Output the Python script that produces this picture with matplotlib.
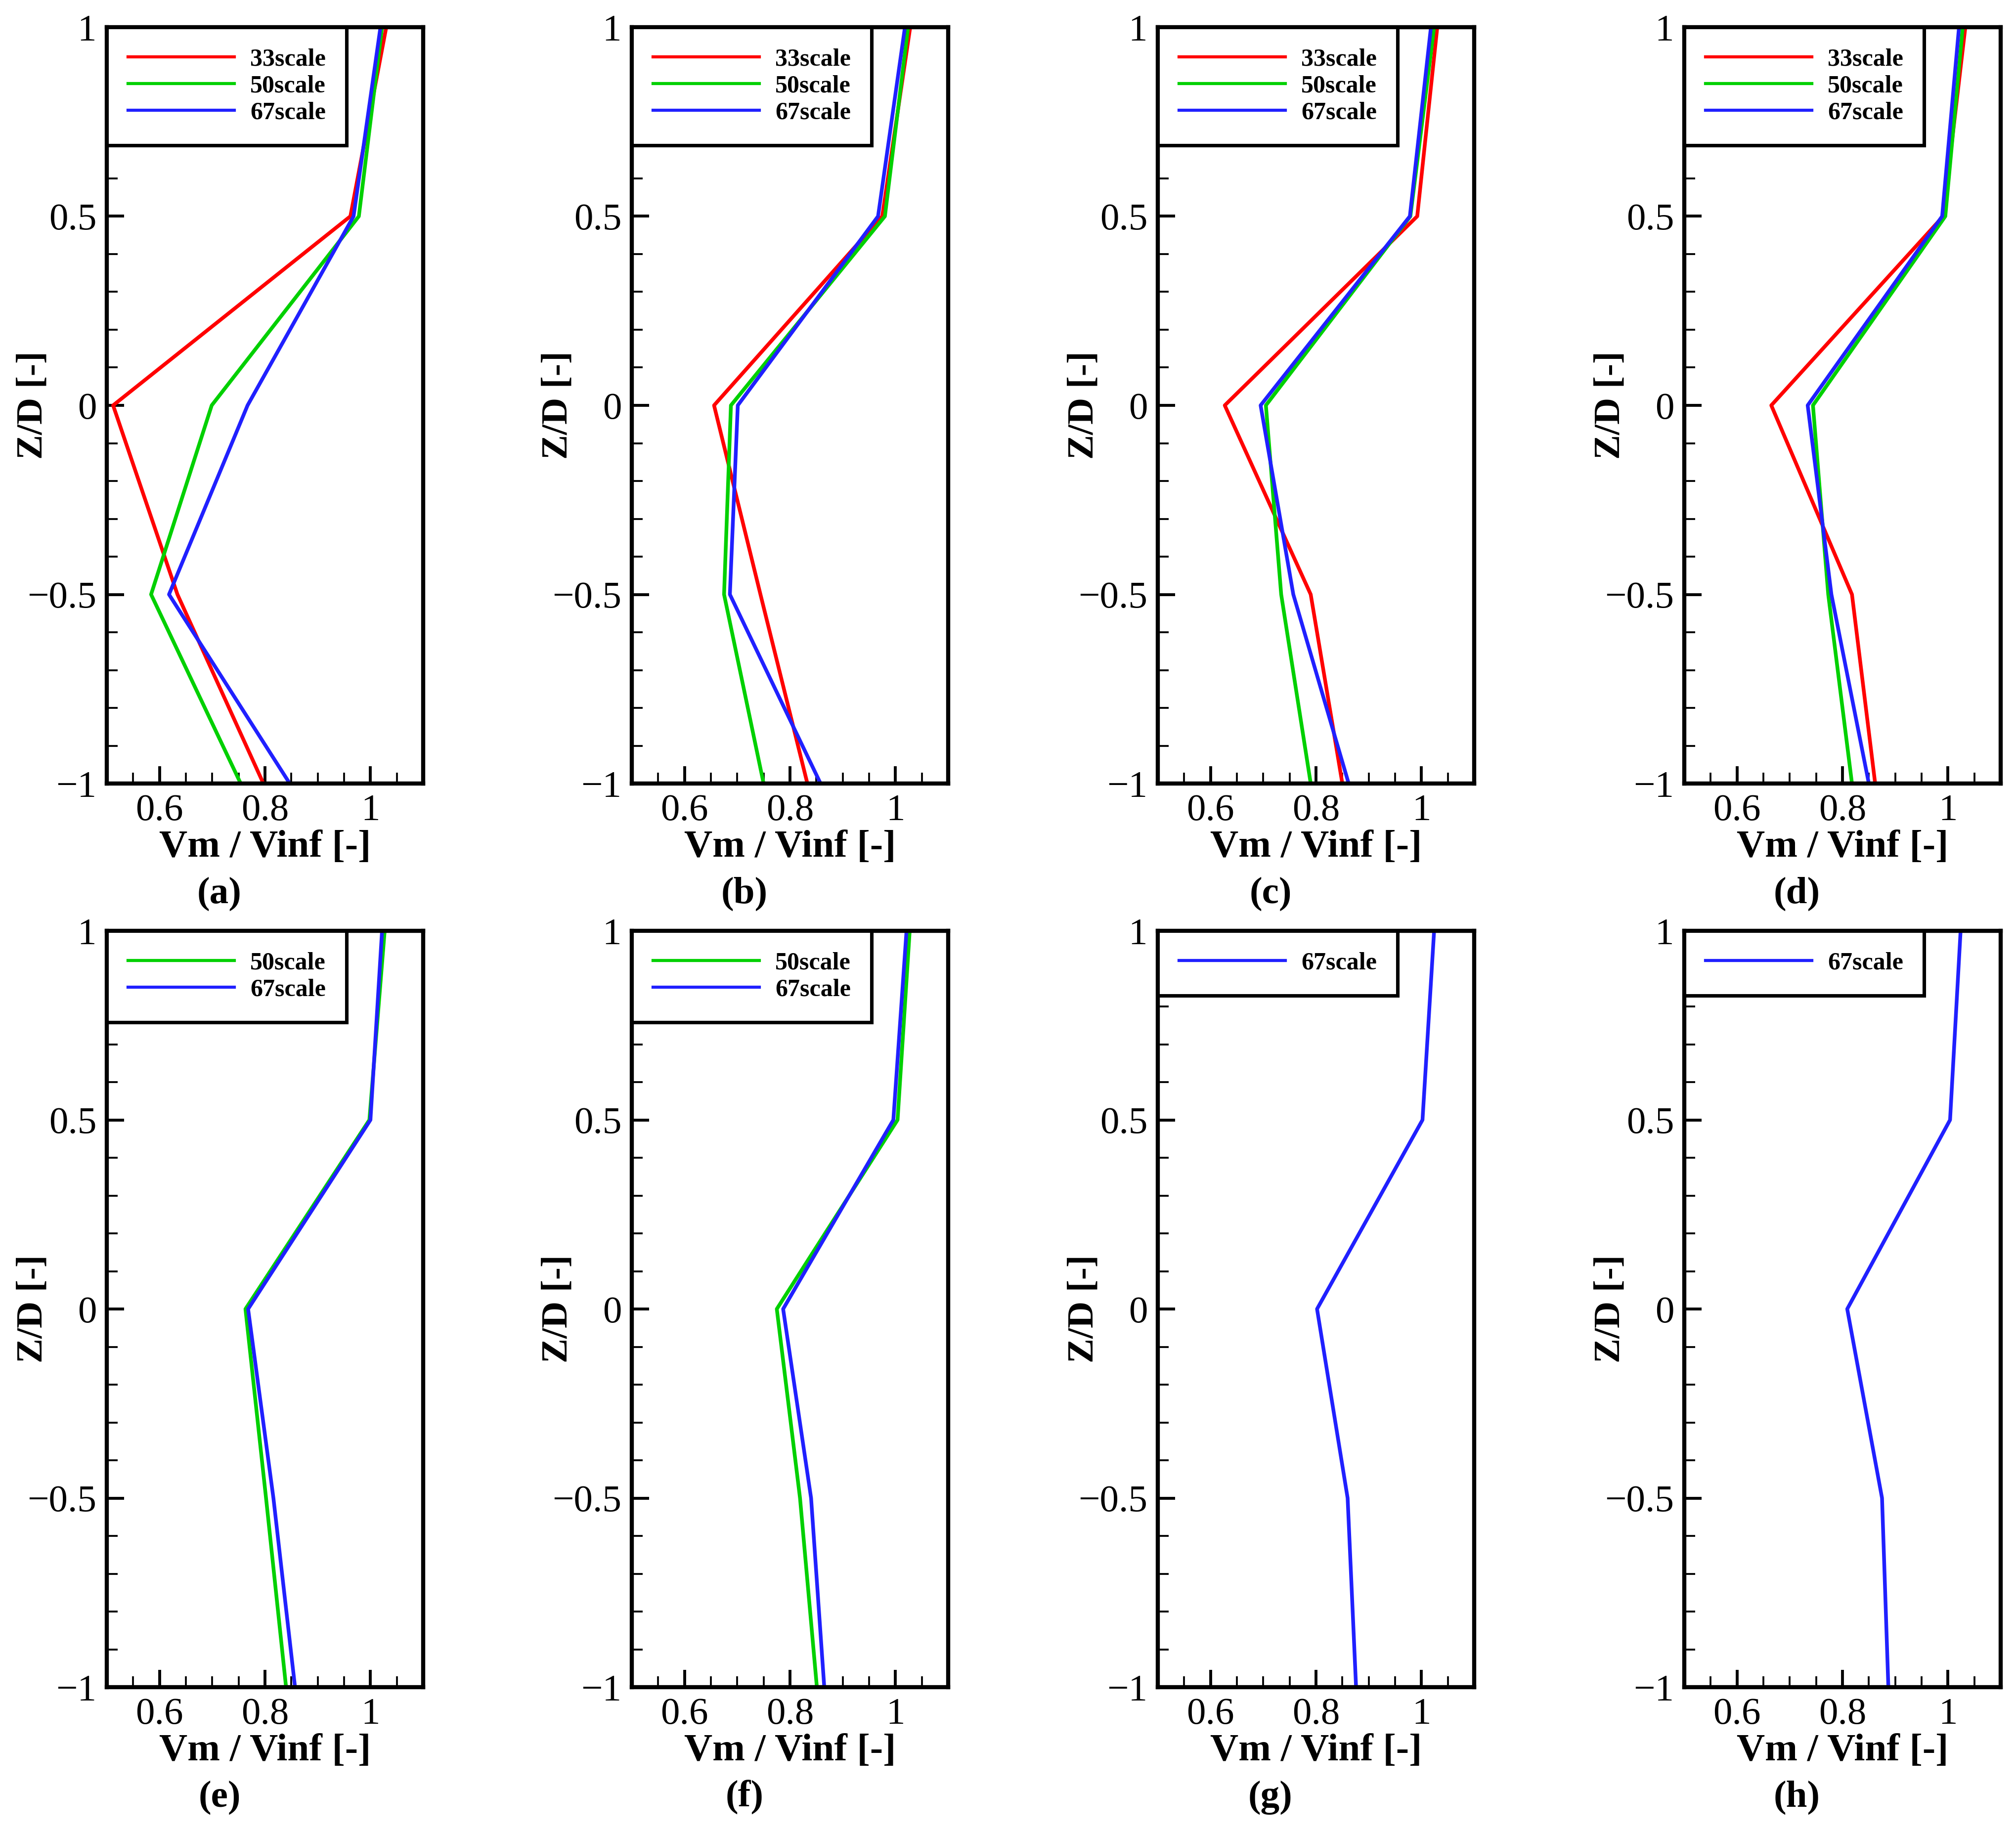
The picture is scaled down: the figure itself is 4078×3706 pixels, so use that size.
import numpy as np
import matplotlib
matplotlib.use("Agg")
import matplotlib.pyplot as plt
from matplotlib.ticker import MultipleLocator, FuncFormatter

plt.rcParams['font.family'] = ['Liberation Serif', 'DejaVu Serif']
plt.rcParams['axes.unicode_minus'] = True

# Z/D stations (same for every panel)
zd = [-1.0, -0.5, 0.0, 0.5, 1.0]

# Vm/Vinf per panel and per scale
panel_letters = ['(a)', '(b)', '(c)', '(d)', '(e)', '(f)', '(g)', '(h)']
scale_names = ['33scale', '50scale', '67scale']
scale_colors = {'33scale': '#ff0000', '50scale': '#00d000', '67scale': '#2020ff'}

v33 = {
    '(a)': [0.797, 0.634, 0.512, 0.962, 1.030],
    '(b)': [0.833, 0.744, 0.656, 0.975, 1.028],
    '(c)': [0.850, 0.790, 0.627, 0.992, 1.030],
    '(d)': [0.862, 0.818, 0.665, 0.991, 1.033],
}
v50 = {
    '(a)': [0.754, 0.584, 0.699, 0.978, 1.022],
    '(b)': [0.750, 0.675, 0.688, 0.980, 1.024],
    '(c)': [0.790, 0.734, 0.705, 0.979, 1.024],
    '(d)': [0.818, 0.773, 0.744, 0.995, 1.028],
    '(e)': [0.840, 0.802, 0.763, 0.998, 1.027],
    '(f)': [0.851, 0.819, 0.775, 1.004, 1.027],
}
v67 = {
    '(a)': [0.847, 0.618, 0.767, 0.968, 1.019],
    '(b)': [0.858, 0.686, 0.701, 0.967, 1.018],
    '(c)': [0.862, 0.757, 0.695, 0.978, 1.018],
    '(d)': [0.850, 0.779, 0.734, 0.989, 1.021],
    '(e)': [0.857, 0.816, 0.768, 1.000, 1.022],
    '(f)': [0.865, 0.840, 0.787, 0.996, 1.021],
    '(g)': [0.876, 0.860, 0.802, 1.002, 1.024],
    '(h)': [0.887, 0.875, 0.809, 1.004, 1.024],
}
series = {'33scale': v33, '50scale': v50, '67scale': v67}

W, H = 4078, 3706
fig = plt.figure(figsize=(W / 300, H / 300), dpi=300)

lefts = [216, 1278, 2342, 3407]
tops = [55, 1883]
aw, ah = 640, 1530


def fmt(v, pos):
    s = '%g' % v
    if s == '-0':
        s = '0'
    return s.replace('-', '\u2212')


for i, letter in enumerate(panel_letters):
    r, c = divmod(i, 4)
    x0 = lefts[c]
    y0 = tops[r]
    ax = fig.add_axes([x0 / W, 1 - (y0 + ah) / H, aw / W, ah / H])
    for name in scale_names:
        if letter in series[name]:
            ax.plot(series[name][letter], zd, color=scale_colors[name], lw=1.8, label=name)
    ax.set_xlim(0.5, 1.1)
    ax.set_ylim(-1, 1)
    ax.xaxis.set_major_locator(MultipleLocator(0.2))
    ax.xaxis.set_minor_locator(MultipleLocator(0.05))
    ax.yaxis.set_major_locator(MultipleLocator(0.5))
    ax.yaxis.set_minor_locator(MultipleLocator(0.1))
    ax.xaxis.set_major_formatter(FuncFormatter(fmt))
    ax.yaxis.set_major_formatter(FuncFormatter(fmt))
    ax.tick_params(which='both', direction='in', top=False, right=False, labelsize=18.5)
    ax.tick_params(which='major', length=8.4, width=1.4, pad=5)
    ax.tick_params(which='minor', length=5.2, width=0.9)
    for sp in ax.spines.values():
        sp.set_linewidth(2.0)
    ax.set_xlabel('Vm / Vinf [-]', fontsize=19, fontweight='bold', labelpad=1)
    ax.set_ylabel('Z/D [-]', fontsize=18, fontweight='bold')
    ax.yaxis.set_label_coords(-0.18, 0.5)
    leg = ax.legend(loc='upper left', bbox_to_anchor=(0, 1), borderaxespad=0,
                    fancybox=False, edgecolor='black', framealpha=1,
                    prop={'family': 'Liberation Serif', 'weight': 'bold', 'size': 12},
                    handlelength=4.3, handletextpad=0.65, labelspacing=0.16,
                    borderpad=0.85)
    leg.get_frame().set_linewidth(1.7)
    for ln in leg.get_lines():
        ln.set_linewidth(1.5)
    fig.text((x0 + aw / 2 - 92) / W, 1 - (y0 + 1753) / H, letter,
             fontsize=18.5, fontweight='bold', ha='center', va='center')

fig.savefig('out.png', dpi=300)
